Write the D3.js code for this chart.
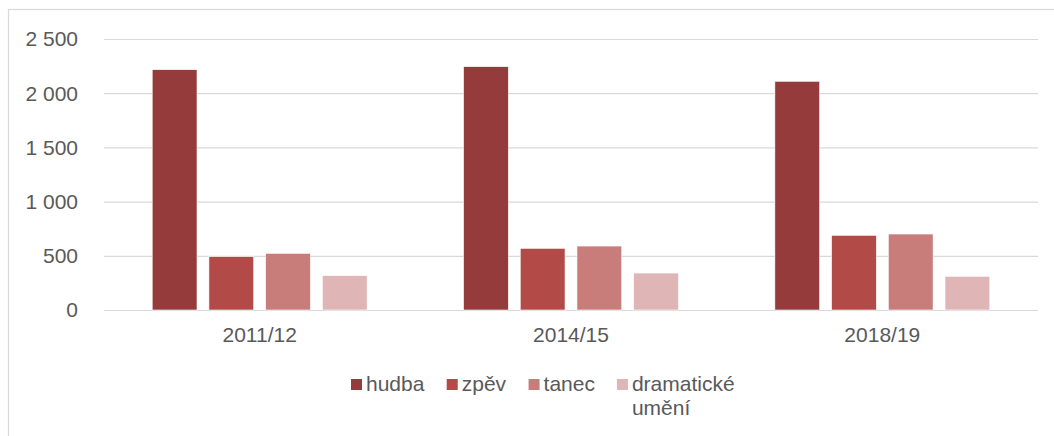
<!DOCTYPE html>
<html lang="cs">
<head>
<meta charset="UTF-8">
<title>hudba, zpěv, tanec, dramatické umění</title>
<script src="https://d3js.org/d3.v7.min.js"></script>
<style>
  body { margin: 0; background: #fff; font-family: 'Liberation Sans', Arial, sans-serif; }
  svg text { fill: #595959; font-size: 21px; }
</style>
</head>
<body>
<svg width="1054" height="436"></svg>
<script>
  // data
  const years = ["2011/12", "2014/15", "2018/19"];
  const series = ["hudba", "zpěv", "tanec", "dramatické umění"];
  const hudba = [2217, 2245, 2110];
  const zpev = [492, 569, 689];
  const tanec = [523, 590, 701];
  const dramaticke = [317, 341, 311];
  const yTicks = [0, 500, 1000, 1500, 2000, 2500];
  const colors = ["#963b3b", "#b24b48", "#c97d7b", "#dfb5b5"];

  const values = [hudba, zpev, tanec, dramaticke];
  const svg = d3.select("svg");

  // outer frame
  svg.append("rect")
    .attr("x", 8.5).attr("y", 9.5)
    .attr("width", 1100).attr("height", 500)
    .attr("fill", "none").attr("stroke", "#d9d9d9").attr("stroke-width", 1.2);

  const plotLeft = 104, plotRight = 1038, plotTop = 39, plotBottom = 310;

  const y = d3.scaleLinear().domain([0, 2500]).range([plotBottom, plotTop]);
  const x0 = d3.scaleBand().domain(years).range([plotLeft, plotRight]);
  const x1 = d3.scaleBand().domain(series).range([0, x0.bandwidth()])
    .paddingInner(0.21).paddingOuter(0.85);
  const color = d3.scaleOrdinal().domain(series).range(colors);

  // gridlines
  svg.append("g").selectAll("line").data(yTicks).join("line")
    .attr("x1", plotLeft).attr("x2", plotRight)
    .attr("y1", d => y(d) + 0.5).attr("y2", d => y(d) + 0.5)
    .attr("stroke", "#d9d9d9").attr("stroke-width", 1.2);

  // y tick labels
  const fmt = d => d3.format(",")(d).replace(/,/g, "\u00a0");
  svg.append("g").selectAll("text").data(yTicks).join("text")
    .attr("x", 78).attr("y", d => y(d))
    .attr("dy", "0.35em").attr("text-anchor", "end")
    .text(fmt);

  // bars
  const groups = svg.append("g").selectAll("g").data(years).join("g")
    .attr("transform", d => `translate(${x0(d)},0)`);
  groups.selectAll("rect")
    .data((yr, i) => series.map((s, j) => ({ s, v: values[j][i] })))
    .join("rect")
    .attr("x", d => x1(d.s))
    .attr("y", d => y(d.v))
    .attr("width", x1.bandwidth())
    .attr("height", d => y(0) - y(d.v))
    .attr("fill", d => color(d.s))
    .attr("stroke", "#fff").attr("stroke-width", 0.6);

  // x labels
  svg.append("g").selectAll("text").data(years).join("text")
    .attr("x", d => x0(d) + x0.bandwidth() / 2)
    .attr("y", 342)
    .attr("text-anchor", "middle")
    .text(d => d);

  // legend
  const legend = svg.append("g");
  let lx = 351;
  series.forEach((s, i) => {
    legend.append("rect")
      .attr("x", lx).attr("y", 379).attr("width", 11).attr("height", 11)
      .attr("fill", color(s));
    const words = s === "dramatické umění" ? ["dramatické", "umění"] : [s];
    const t = legend.append("text").attr("x", lx + 15).attr("y", 391);
    words.forEach((w, k) => {
      t.append("tspan").attr("x", lx + 15).attr("dy", k ? 24 : 0).text(w);
    });
    const w = t.node().getBBox().width;
    lx += 15 + w + 22;
  });
</script>
</body>
</html>
